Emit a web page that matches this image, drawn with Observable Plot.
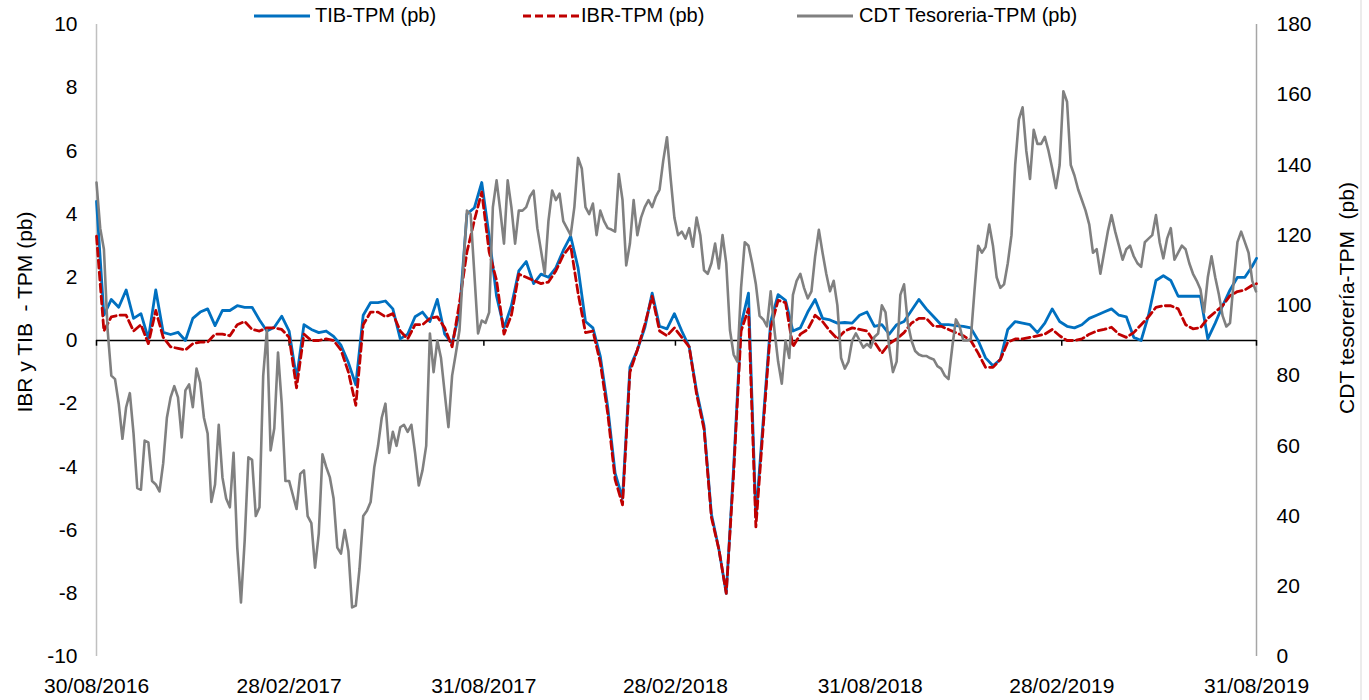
<!DOCTYPE html>
<html><head><meta charset="utf-8">
<script src="https://cdn.jsdelivr.net/npm/d3@7"></script>
<script src="https://cdn.jsdelivr.net/npm/@observablehq/plot@0.6"></script>
<style>
body{margin:0;background:#fff;font-family:"Liberation Sans",Arial,sans-serif;}
#wrap{position:relative;width:1369px;height:700px;overflow:hidden;}
.legsw{position:absolute;top:0;}
.legtx{position:absolute;top:5px;font-size:20px;line-height:20px;color:#000;white-space:nowrap;}
</style></head><body><div id="wrap"></div>
<script>
// ---- data ----
const startDate = "2016-08-30";
const endDate = "2019-08-31";
const tickDates = ["2016-08-30","2017-02-28","2017-08-31","2018-02-28","2018-08-31","2019-02-28","2019-08-31"];
const leftTicks = [-10,-8,-6,-4,-2,0,2,4,6,8,10];
const rightTicks = [0,20,40,60,80,100,120,140,160,180];
const seriesNames = ["TIB-TPM (pb)", "IBR-TPM (pb)", "CDT Tesoreria-TPM (pb)"];
const leftTitle = "IBR y TIB  - TPM (pb)";
const rightTitle = "CDT tesorería-TPM  (pb)";

// TIB and IBR: weekly observations from 30/08/2016, last one on 31/08/2019
const tib = [
 4.4, 0.8, 1.3, 1.05, 1.6, 0.7, 0.85, 0.06, 1.6, 0.26,
 0.19, 0.26, 0.0, 0.7, 0.9, 1.0, 0.47, 0.95, 0.95, 1.1,
 1.05, 1.05, 0.65, 0.3, 0.42, 0.77, 0.3, -1.2, 0.5, 0.35,
 0.25, 0.3, 0.13, -0.15, -0.7, -1.4, 0.8, 1.2, 1.2, 1.25,
 1.0, 0.05, 0.2, 0.75, 0.9, 0.6, 1.3, 0.2, -0.1, 0.9,
 4.0, 4.2, 5.0, 3.3, 1.4, 0.4, 1.1, 2.2, 2.5, 1.8,
 2.1, 2.0, 2.3, 2.85, 3.3, 2.3, 0.6, 0.4, -0.5, -2.1,
 -4.2, -5.0, -0.85, -0.3, 0.4, 1.5, 0.45, 0.37, 0.85, 0.3,
 -0.2, -1.6, -2.7, -5.5, -6.6, -8.0, -4.0, 0.5, 1.5, -5.6,
 -2.5, 0.6, 1.45, 1.27, 0.3, 0.4, 0.9, 1.3, 0.7, 0.65,
 0.55, 0.57, 0.55, 0.8, 0.9, 0.45, 0.5, 0.2, 0.5, 0.6,
 0.95, 1.3, 1.0, 0.75, 0.5, 0.5, 0.47, 0.45, 0.4, 0.0,
 -0.55, -0.8, -0.6, 0.35, 0.6, 0.55, 0.5, 0.25, 0.55, 1.0,
 0.6, 0.45, 0.4, 0.5, 0.7, 0.8, 0.9, 1.0, 0.8, 0.75,
 0.1, 0.0, 0.8, 1.9, 2.05, 1.9, 1.4, 1.4, 1.4, 1.4,
 0.05, 0.55, 1.1, 1.6, 2.0, 2.0, 2.35, 2.6
];
const ibr = [
 3.3, 0.3, 0.75, 0.8, 0.8, 0.3, 0.5, -0.1, 0.95, 0.1,
 -0.2, -0.25, -0.3, -0.1, -0.05, -0.05, 0.2, 0.2, 0.15, 0.5,
 0.6, 0.35, 0.3, 0.4, 0.4, 0.35, 0.1, -1.5, 0.2, 0.0,
 0.0, 0.05, 0.0, -0.3, -1.0, -2.05, 0.5, 0.9, 0.9, 0.75,
 0.85, 0.3, 0.05, 0.5, 0.5, 0.7, 0.75, 0.4, -0.2, 1.2,
 2.8, 3.8, 4.7, 2.8, 1.9, 0.2, 0.8, 2.1, 2.0, 1.9,
 1.8, 1.85, 2.2, 2.7, 3.0, 1.5, 0.25, 0.3, -0.7, -2.3,
 -4.4, -5.2, -1.0, -0.3, 0.5, 1.4, 0.3, 0.15, 0.4, 0.1,
 -0.2, -1.7, -2.8, -5.6, -6.6, -8.0, -4.2, 0.3, 1.0, -5.9,
 -2.7, 0.4, 1.27, 1.2, -0.2, 0.2, 0.35, 0.8, 0.6, 0.3,
 0.05, 0.3, 0.4, 0.35, 0.3, -0.05, -0.4, -0.1, 0.05, 0.25,
 0.55, 0.7, 0.7, 0.45, 0.45, 0.35, 0.25, 0.15, 0.0, -0.4,
 -0.85, -0.85, -0.6, -0.05, 0.05, 0.05, 0.1, 0.15, 0.2, 0.35,
 0.15, 0.0, 0.0, 0.05, 0.2, 0.3, 0.35, 0.42, 0.2, 0.1,
 0.25, 0.5, 0.75, 1.05, 1.1, 1.1, 1.0, 0.5, 0.37, 0.4,
 0.7, 0.9, 1.1, 1.42, 1.55, 1.6, 1.75, 1.8
];
// CDT Tesoreria: twice-weekly observations (every 3.5 days) from 30/08/2016, last one on 31/08/2019
const cdt = [
 135, 122, 116, 93, 80, 79, 72, 62, 71, 75,
 63.5, 48, 47.5, 61.5, 61, 50, 49, 47, 55, 68,
 73.8, 77, 73.8, 62.4, 75.8, 77.5, 71, 82, 78, 68,
 63.5, 44, 49, 66, 51, 45, 42.5, 58, 31, 15.4,
 33, 56.7, 56, 40, 42.5, 80, 93, 58.7, 65, 86.6,
 72, 50, 50, 46, 42, 52, 53, 40, 38, 25.3,
 35, 57.6, 54, 51, 45, 31, 29.3, 36, 30, 14,
 14.5, 25, 40, 41.5, 44, 54, 60, 68, 72, 58,
 64, 60, 65.3, 66, 64, 66, 58, 48.7, 53, 60,
 92, 81, 90, 85, 75, 65.3, 80, 86.3, 93, 111,
 127, 126, 109, 92, 95.7, 95, 98, 128, 135.6, 127,
 117.6, 135.6, 128, 117.6, 127, 127, 128, 131, 132.7, 122,
 115.6, 109, 124, 132.7, 130, 131.8, 124, 122, 120, 128,
 142, 139, 128, 126, 129, 120, 127, 124, 122, 121.6,
 121, 137.4, 130, 111.4, 117.6, 130, 120, 125, 128, 130,
 128, 131, 133, 141.3, 147.9, 136, 125, 120, 121, 119,
 122, 116.7, 125, 120, 110, 109, 112, 117.6, 110.5, 120,
 112, 93, 86, 84, 105, 118, 117, 112, 106, 97,
 96, 94, 104, 93, 84, 77.7, 90, 85, 103, 107,
 109, 105, 102, 104, 114, 121.5, 115, 109, 104, 107,
 100, 85, 82, 84, 90, 92, 90, 88, 89, 88,
 91, 92, 100, 98, 88, 81, 84, 103, 106, 95,
 90, 87, 86, 85.6, 85.6, 85, 84.6, 82.7, 82, 80,
 79, 88, 96, 94, 90, 90, 90.3, 104, 117, 115,
 116.6, 123, 117, 108, 105, 106, 112, 120, 140, 153,
 156.4, 144, 136, 150, 146, 146, 148, 144, 139, 133.4,
 140, 161, 158, 140, 137, 133, 130, 127, 123, 115,
 116, 109, 115, 121, 125.7, 121, 117, 113, 116, 117,
 114, 112, 111, 118, 119, 120, 125.7, 118, 113.4, 119,
 122, 113, 115, 117, 116, 112, 109, 107, 104.6, 98,
 108, 114, 108, 103, 97, 94, 95, 107, 118, 121,
 118, 115, 107, 104
];

// ---- build ----
const parse = d3.utcParse("%Y-%m-%d");
const t0 = parse(startDate), t1 = parse(endDate);
const weekDates = d3.utcDay.range(t0, t1, 7).concat([t1]);
const halfWeekDates = d3.utcHour.range(t0, t1, 84).concat([t1]);
const rows = weekDates.map((date, i) => ({date, tib: tib[i], ibr: ibr[i]}));
const cdtRows = halfWeekDates.map((date, i) => ({date, cdt: cdt[i]}));
const toLeft = v => (v - 90) / 9;   // secondary axis 0..180 onto primary -10..10
const fromLeft = v => v * 9 + 90;
const tickDateObjs = tickDates.map(parse);

const colors = ["#0070C0", "#C00000", "#808080"];
const dashes = [null, "8,4", null];

const chart = Plot.plot({
  width: 1369, height: 700,
  marginLeft: 96, marginRight: 113, marginTop: 24, marginBottom: 44,
  style: {fontFamily: '"Liberation Sans", Arial, sans-serif', fontSize: "21px", color: "#000", background: "#fff", overflow: "visible"},
  x: {type: "utc", domain: [t0, t1]},
  y: {domain: [-10, 10]},
  marks: [
    Plot.ruleX([t0], {stroke: "#c0c0c0", strokeWidth: 1.5}),
    Plot.ruleX([t1], {stroke: "#a6a6a6", strokeWidth: 1.5}),
    Plot.axisX(tickDateObjs, {anchor: "bottom", tickSize: 0, tickPadding: 22, tickFormat: d3.utcFormat("%d/%m/%Y"), label: null}),
    Plot.axisY(leftTicks, {anchor: "left", tickSize: 0, tickPadding: 19, tickFormat: d => String(d), label: null}),
    Plot.axisY(rightTicks.map(toLeft), {anchor: "right", tickSize: 0, tickPadding: 20, tickFormat: d => String(Math.round(fromLeft(d))), label: null}),
    Plot.ruleY([0], {stroke: "#000", strokeWidth: 1.5}),
    Plot.ruleX(tickDateObjs, {y1: 0, y2: -0.18, stroke: "#000", strokeWidth: 1.5}),
    Plot.line(rows, {x: "date", y: "tib", stroke: colors[0], strokeWidth: 2.8, strokeLinejoin: "round"}),
    Plot.line(rows, {x: "date", y: "ibr", stroke: colors[1], strokeWidth: 2.8, strokeDasharray: dashes[1], strokeLinejoin: "round"}),
    Plot.line(cdtRows, {x: "date", y: d => toLeft(d.cdt), stroke: colors[2], strokeWidth: 2.6, strokeLinejoin: "round"})
  ]
});

const svg = d3.select(chart);
svg.append("text")
  .attr("transform", "translate(32,312) rotate(-90)")
  .attr("text-anchor", "middle").attr("font-size", 21).attr("fill", "#000")
  .style("white-space", "pre").text(leftTitle);
svg.append("text")
  .attr("transform", "translate(1354,298) rotate(-90)")
  .attr("text-anchor", "middle").attr("font-size", 21).attr("fill", "#000")
  .style("white-space", "pre").text(rightTitle);
svg.append("line").attr("x1", 1361).attr("x2", 1361).attr("y1", 0).attr("y2", 700)
  .attr("stroke", "#d9d9d9").attr("stroke-width", 1);

const wrap = document.getElementById("wrap");
wrap.appendChild(chart);

// legend
const legPos = [{sw: 253, tx: 315}, {sw: 522, tx: 581}, {sw: 796, tx: 859}];
seriesNames.forEach((name, i) => {
  const s = d3.select(wrap).append("svg").attr("class", "legsw")
    .style("left", legPos[i].sw + "px").attr("width", 58).attr("height", 30);
  s.append("line").attr("x1", 1).attr("x2", 57).attr("y1", 16).attr("y2", 16)
    .attr("stroke", colors[i]).attr("stroke-width", 3)
    .attr("stroke-dasharray", dashes[i]);
  d3.select(wrap).append("div").attr("class", "legtx")
    .style("left", legPos[i].tx + "px").text(name);
});
</script></body></html>
